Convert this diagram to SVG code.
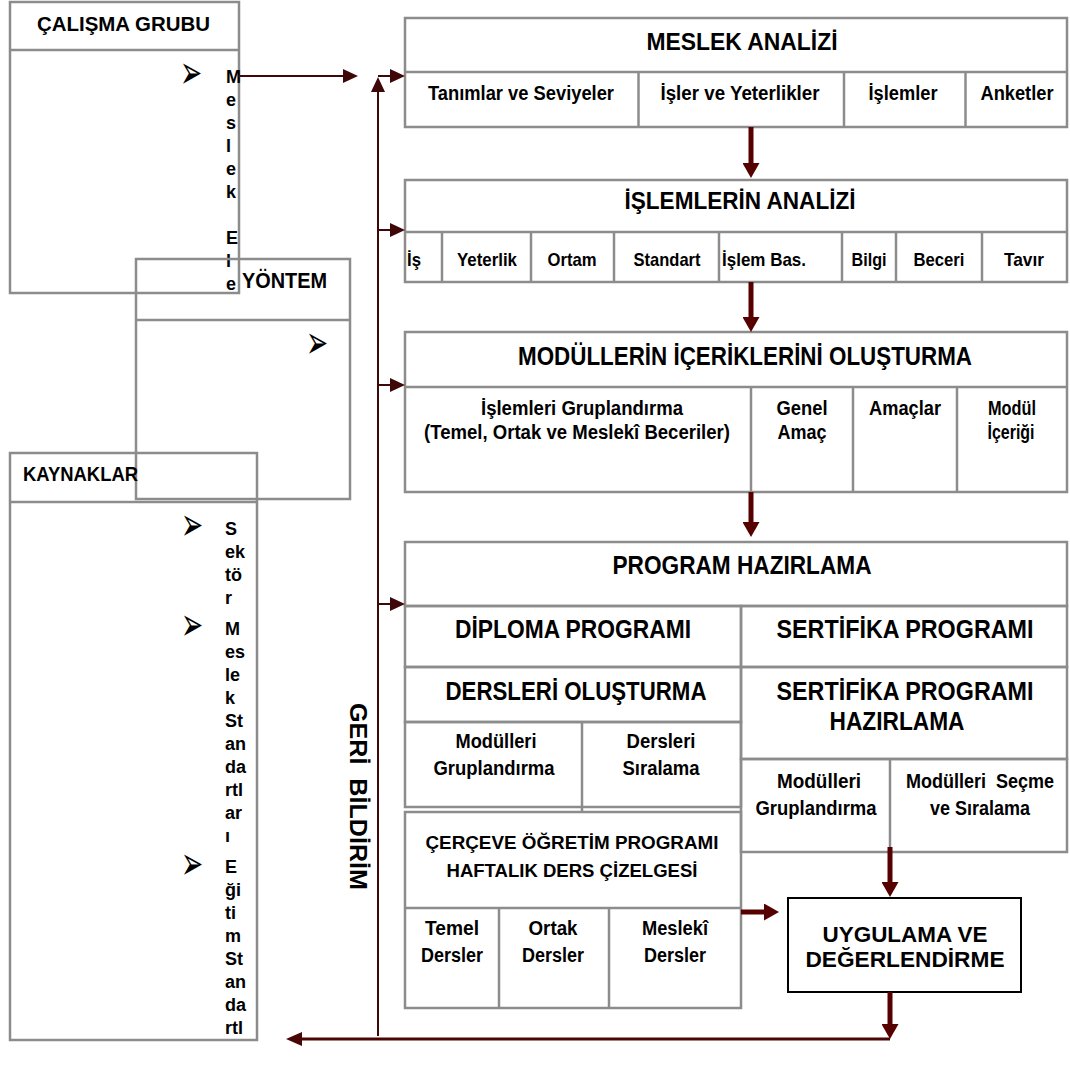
<svg xmlns="http://www.w3.org/2000/svg" width="1070" height="1065" viewBox="0 0 1070 1065">
<defs>
<style>
.box{fill:none;stroke:#8c8c8c;stroke-width:2.5}
.ln{fill:none;stroke:#8c8c8c;stroke-width:2.5}
.t{font-family:"Liberation Sans Narrow","Arial Narrow","Liberation Sans",Arial,sans-serif;font-weight:bold;fill:#000}
.c{text-anchor:middle}
.h{font-size:24px}
.s{font-size:20px}
.v{font-size:18px}
.b{font-family:"DejaVu Sans",sans-serif;font-size:34px;text-anchor:middle;dominant-baseline:central;fill:#000}
.thick{fill:none;stroke:#560000;stroke-width:5}
.mid{fill:none;stroke:#4a0606;stroke-width:3}
.thin{fill:none;stroke:#3f0808;stroke-width:2}
</style>
<marker id="hk" markerUnits="userSpaceOnUse" markerWidth="16" markerHeight="17" refX="0" refY="8.5" orient="auto"><path d="M0,0 L15,8.5 L0,17 z" fill="#560000"/></marker>
<marker id="hm" markerUnits="userSpaceOnUse" markerWidth="17" markerHeight="14" refX="0" refY="7" orient="auto"><path d="M0,0 L16,7 L0,14 z" fill="#4a0606"/></marker>
<marker id="hn" markerUnits="userSpaceOnUse" markerWidth="16" markerHeight="14" refX="0" refY="7" orient="auto"><path d="M0,0 L15,7 L0,14 z" fill="#3f0808"/></marker>
</defs>
<rect width="1070" height="1065" fill="#fff"/>

<g id="calisma-grubu">
<rect class="box" x="10" y="2" width="229" height="291"/>
<line class="ln" x1="10" y1="50" x2="239" y2="50"/>
<text class="t c" x="123.5" y="31" font-size="21" textLength="173" lengthAdjust="spacingAndGlyphs">ÇALIŞMA GRUBU</text>
<text class="b" transform="translate(191,72) scale(0.78,1.35)">➢</text>
<g class="t v">
<text x="226" y="83">M</text><text x="226" y="106">e</text><text x="226" y="129">s</text><text x="226" y="152">l</text><text x="226" y="175">e</text><text x="226" y="198">k</text>
<text x="226" y="244">E</text><text x="226" y="267">l</text><text x="226" y="290">e</text>
</g>
</g>

<g id="yontem">
<rect class="box" x="136" y="259" width="214" height="240"/>
<line class="ln" x1="136" y1="320" x2="350" y2="320"/>
<text class="t c" x="284.5" y="288" font-size="22" textLength="85" lengthAdjust="spacingAndGlyphs">YÖNTEM</text>
<text class="b" transform="translate(317,342) scale(0.78,1.35)">➢</text>
</g>

<g id="kaynaklar">
<rect class="box" x="10" y="453" width="247" height="587"/>
<line class="ln" x1="10" y1="502" x2="257" y2="502"/>
<text class="t" x="23" y="481" font-size="20" textLength="115" lengthAdjust="spacingAndGlyphs">KAYNAKLAR</text>
<text class="b" transform="translate(192,524) scale(0.78,1.35)">➢</text>
<text class="b" transform="translate(192,624) scale(0.78,1.35)">➢</text>
<text class="b" transform="translate(192,863) scale(0.78,1.35)">➢</text>
<g class="t v">
<text x="225" y="535">S</text><text x="225" y="558">ek</text><text x="225" y="581">tö</text><text x="225" y="604">r</text>
<text x="225" y="635">M</text><text x="225" y="658">es</text><text x="225" y="681">le</text><text x="225" y="704">k</text><text x="225" y="727">St</text><text x="225" y="750">an</text><text x="225" y="773">da</text><text x="225" y="796">rtl</text><text x="225" y="819">ar</text><text x="225" y="842">ı</text>
<text x="225" y="873">E</text><text x="225" y="896">ği</text><text x="225" y="919">ti</text><text x="225" y="942">m</text><text x="225" y="965">St</text><text x="225" y="988">an</text><text x="225" y="1011">da</text><text x="225" y="1034">rtl</text>
</g>
</g>

<g id="meslek-analizi">
<rect class="box" x="405" y="18" width="662" height="109"/>
<line class="ln" x1="405" y1="72" x2="1067" y2="72"/>
<line class="ln" x1="638.5" y1="72" x2="638.5" y2="127"/>
<line class="ln" x1="844" y1="72" x2="844" y2="127"/>
<line class="ln" x1="965.5" y1="72" x2="965.5" y2="127"/>
<text class="t c h" x="742" y="50" textLength="191" lengthAdjust="spacingAndGlyphs">MESLEK ANALİZİ</text>
<g class="t c s">
<text x="521" y="100" textLength="186" lengthAdjust="spacingAndGlyphs">Tanımlar ve Seviyeler</text>
<text x="740" y="100" textLength="159" lengthAdjust="spacingAndGlyphs">İşler ve Yeterlikler</text>
<text x="903" y="100" textLength="69" lengthAdjust="spacingAndGlyphs">İşlemler</text>
<text x="1017" y="100" textLength="73" lengthAdjust="spacingAndGlyphs">Anketler</text>
</g>
</g>

<g id="islemlerin-analizi">
<rect class="box" x="405" y="180" width="662" height="102"/>
<line class="ln" x1="405" y1="232" x2="1067" y2="232"/>
<line class="ln" x1="442" y1="232" x2="442" y2="282"/>
<line class="ln" x1="531" y1="232" x2="531" y2="282"/>
<line class="ln" x1="614" y1="232" x2="614" y2="282"/>
<line class="ln" x1="719" y1="232" x2="719" y2="282"/>
<line class="ln" x1="842" y1="232" x2="842" y2="282"/>
<line class="ln" x1="896" y1="232" x2="896" y2="282"/>
<line class="ln" x1="982" y1="232" x2="982" y2="282"/>
<text class="t c h" x="740" y="209" textLength="231" lengthAdjust="spacingAndGlyphs">İŞLEMLERİN ANALİZİ</text>
<g class="t c" font-size="19">
<text x="414" y="266" textLength="14" lengthAdjust="spacingAndGlyphs">İş</text>
<text x="487" y="266" textLength="60" lengthAdjust="spacingAndGlyphs">Yeterlik</text>
<text x="572" y="266" textLength="49" lengthAdjust="spacingAndGlyphs">Ortam</text>
<text x="667" y="266" textLength="67" lengthAdjust="spacingAndGlyphs">Standart</text>
<text x="764" y="266" textLength="84" lengthAdjust="spacingAndGlyphs">İşlem Bas.</text>
<text x="869" y="266" textLength="35" lengthAdjust="spacingAndGlyphs">Bilgi</text>
<text x="939" y="266" textLength="51" lengthAdjust="spacingAndGlyphs">Beceri</text>
<text x="1024" y="266" textLength="40" lengthAdjust="spacingAndGlyphs">Tavır</text>
</g>
</g>

<g id="modullerin-icerikleri">
<rect class="box" x="405" y="332" width="662" height="160"/>
<line class="ln" x1="405" y1="387" x2="1067" y2="387"/>
<line class="ln" x1="751" y1="387" x2="751" y2="492"/>
<line class="ln" x1="853" y1="387" x2="853" y2="492"/>
<line class="ln" x1="957" y1="387" x2="957" y2="492"/>
<text class="t c" x="745" y="365" font-size="25" textLength="454" lengthAdjust="spacingAndGlyphs">MODÜLLERİN İÇERİKLERİNİ OLUŞTURMA</text>
<g class="t c s">
<text x="582" y="415" textLength="202" lengthAdjust="spacingAndGlyphs">İşlemleri Gruplandırma</text>
<text x="577" y="439" textLength="306" lengthAdjust="spacingAndGlyphs">(Temel, Ortak ve Meslekî Beceriler)</text>
<text x="802" y="415" textLength="51" lengthAdjust="spacingAndGlyphs">Genel</text>
<text x="802" y="439" textLength="49" lengthAdjust="spacingAndGlyphs">Amaç</text>
<text x="905" y="415" textLength="72" lengthAdjust="spacingAndGlyphs">Amaçlar</text>
<text x="1012" y="415" textLength="48" lengthAdjust="spacingAndGlyphs">Modül</text>
<text x="1011" y="439" textLength="47" lengthAdjust="spacingAndGlyphs">İçeriği</text>
</g>
</g>

<g id="program-hazirlama">
<rect class="box" x="405" y="542" width="662" height="64"/>
<text class="t c" x="742" y="574" font-size="25" textLength="259" lengthAdjust="spacingAndGlyphs">PROGRAM HAZIRLAMA</text>
</g>

<g id="diploma-programi">
<rect class="box" x="405" y="606" width="336" height="61"/>
<text class="t c" x="573" y="638" font-size="25" textLength="236" lengthAdjust="spacingAndGlyphs">DİPLOMA PROGRAMI</text>
</g>

<g id="sertifika-programi">
<rect class="box" x="741" y="606" width="326" height="61"/>
<text class="t c" x="905" y="638" font-size="25" textLength="257" lengthAdjust="spacingAndGlyphs">SERTİFİKA PROGRAMI</text>
</g>

<g id="dersleri-olusturma">
<rect class="box" x="405" y="667" width="336" height="55"/>
<text class="t c" x="576" y="700" font-size="25" textLength="261" lengthAdjust="spacingAndGlyphs">DERSLERİ OLUŞTURMA</text>
<rect class="box" x="405" y="722" width="336" height="85"/>
<line class="ln" x1="582" y1="722" x2="582" y2="812"/>
<g class="t c s">
<text x="496" y="748" textLength="81" lengthAdjust="spacingAndGlyphs">Modülleri</text>
<text x="494" y="775" textLength="121" lengthAdjust="spacingAndGlyphs">Gruplandırma</text>
<text x="661" y="748" textLength="69" lengthAdjust="spacingAndGlyphs">Dersleri</text>
<text x="661" y="775" textLength="77" lengthAdjust="spacingAndGlyphs">Sıralama</text>
</g>
</g>

<g id="sertifika-programi-hazirlama">
<rect class="box" x="741" y="667" width="326" height="92"/>
<text class="t c" x="905" y="700" font-size="25" textLength="257" lengthAdjust="spacingAndGlyphs">SERTİFİKA PROGRAMI</text>
<text class="t c" x="897" y="730" font-size="25" textLength="135" lengthAdjust="spacingAndGlyphs">HAZIRLAMA</text>
<rect class="box" x="741" y="759" width="326" height="93"/>
<line class="ln" x1="890" y1="759" x2="890" y2="852"/>
<g class="t c s">
<text x="819" y="788" textLength="84" lengthAdjust="spacingAndGlyphs">Modülleri</text>
<text x="816" y="815" textLength="121" lengthAdjust="spacingAndGlyphs">Gruplandırma</text>
<text x="980" y="788" xml:space="preserve" textLength="148" lengthAdjust="spacingAndGlyphs">Modülleri  Seçme</text>
<text x="980" y="815" textLength="100" lengthAdjust="spacingAndGlyphs">ve Sıralama</text>
</g>
</g>

<g id="cerceve-ogretim-programi">
<rect class="box" x="405" y="812" width="336" height="196"/>
<line class="ln" x1="405" y1="908" x2="741" y2="908"/>
<line class="ln" x1="499" y1="908" x2="499" y2="1008"/>
<line class="ln" x1="609" y1="908" x2="609" y2="1008"/>
<g class="t c">
<text x="572" y="849" font-size="19" textLength="293" lengthAdjust="spacingAndGlyphs">ÇERÇEVE ÖĞRETİM PROGRAMI</text>
<text x="572" y="877" font-size="19" textLength="251" lengthAdjust="spacingAndGlyphs">HAFTALIK DERS ÇİZELGESİ</text>
</g>
<g class="t c s">
<text x="452" y="935" textLength="54" lengthAdjust="spacingAndGlyphs">Temel</text>
<text x="452" y="962" textLength="62" lengthAdjust="spacingAndGlyphs">Dersler</text>
<text x="553" y="935" textLength="49" lengthAdjust="spacingAndGlyphs">Ortak</text>
<text x="553" y="962" textLength="62" lengthAdjust="spacingAndGlyphs">Dersler</text>
<text x="675" y="935" textLength="66" lengthAdjust="spacingAndGlyphs">Meslekî</text>
<text x="675" y="962" textLength="62" lengthAdjust="spacingAndGlyphs">Dersler</text>
</g>
</g>

<g id="uygulama-ve-degerlendirme">
<rect x="788" y="898" width="233" height="94" fill="none" stroke="#000" stroke-width="2"/>
<text class="t c" x="905" y="942" font-size="22" textLength="165" lengthAdjust="spacingAndGlyphs">UYGULAMA VE</text>
<text class="t c" x="905" y="967" font-size="22" textLength="199" lengthAdjust="spacingAndGlyphs">DEĞERLENDİRME</text>
</g>

<g id="geri-bildirim-label">
<text class="t" transform="translate(350,703) rotate(90)" font-size="23" xml:space="preserve" textLength="187" lengthAdjust="spacingAndGlyphs">GERİ  BİLDİRİM</text>
</g>

<g id="connectors">
<path class="thin" d="M238,76 H343" marker-end="url(#hn)"/>
<path class="thin" d="M378,1036 V92" marker-end="url(#hn)"/>
<path class="thin" d="M378,76 H390" marker-end="url(#hn)"/>
<path class="thin" d="M378,230 H390" marker-end="url(#hn)"/>
<path class="thin" d="M378,385 H390" marker-end="url(#hn)"/>
<path class="thin" d="M378,604 H390" marker-end="url(#hn)"/>
<path class="thick" d="M751,127 V163" marker-end="url(#hk)"/>
<path class="thick" d="M751,282 V317" marker-end="url(#hk)"/>
<path class="thick" d="M751,492 V522" marker-end="url(#hk)"/>
<path class="thick" d="M890,847 V882" marker-end="url(#hk)"/>
<path class="thick" d="M741,912 H764" marker-end="url(#hk)"/>
<path class="thick" d="M890,992 V1024" marker-end="url(#hk)"/>
<path class="mid" d="M890,1039 H302" marker-end="url(#hm)"/>
</g>
</svg>
